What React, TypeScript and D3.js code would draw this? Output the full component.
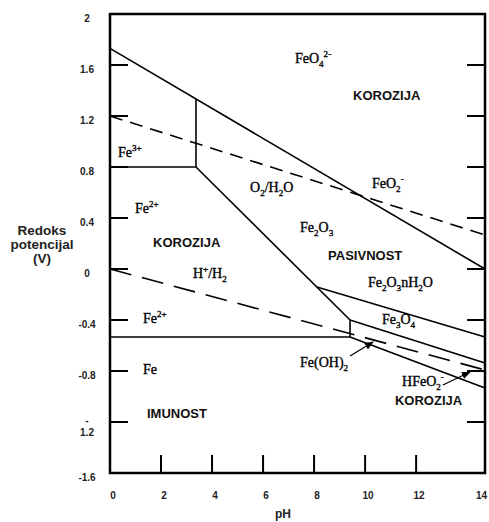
import React from "react";
import * as d3 from "d3";

// ---- data (pH, E in volts) ----
const phMax = 14.7;
const eMin = -1.6;
const eMax = 2;

const yTickValues = [2, 1.6, 1.2, 0.8, 0.4, 0, -0.4, -0.8, -1.2, -1.6];
const yTickLabels = ["2", "1.6", "1.2", "0.8", "0.4", "0", "-0.4", "-0.8", "-\n1.2", "-1.6"];
const yInnerTicks = [1.6, 1.2, 0.8, 0.4, 0, -0.4, -0.8, -1.2];
const xTickValues = [0, 2, 4, 6, 8, 10, 12];
const xTickLabels = ["0", "2", "4", "6", "8", "10", "12"];
const xInnerTicks = [2, 4, 6, 8, 10, 12];
const xEndLabel = "14";

// solid phase boundaries
const feo4Boundary: [number, number][] = [[0, 1.73], [14.7, 0.0]];
const fe3Fe2Boundary: [number, number][] = [[0, 0.8], [3.37, 0.8]];
const fe3Fe2o3Boundary: [number, number][] = [[3.37, 0.8], [3.37, 1.334]];
const fe2Fe2o3Boundary: [number, number][] = [[3.37, 0.8], [9.41, -0.4]];
const fe2Fe3o4Boundary: [number, number][] = [[9.41, -0.4], [9.41, -0.533]];
const fe2FeBoundary: [number, number][] = [[0, -0.533], [9.41, -0.533]];
const hydrateBoundary: [number, number][] = [[8.11, -0.141], [14.7, -0.533]];
const fe3o4LowerBoundary: [number, number][] = [[9.41, -0.4], [14.7, -0.737]];
const feOh2Boundary: [number, number][] = [[9.41, -0.533], [14.7, -0.933]];
// water stability lines
const o2H2oLine: [number, number][] = [[0, 1.2], [14.7, 0.267]];
const hH2Line: [number, number][] = [[0, 0], [14.7, -0.792]];

// arrows
const arrows: [number, number][][] = [
  [[9.41, -0.682], [10.31, -0.573]],
  [[13.05, -0.91], [14.11, -0.808]],
];

// region labels (pH, E, text); _{} = subscript, ^{} = superscript
const serifLabels: [number, number, string][] = [
  [7.25, 1.616, "FeO_{4}^{2-}"],
  [0.31, 0.878, "Fe^{3+}"],
  [10.27, 0.635, "FeO_{2}^{-}"],
  [0.98, 0.439, "Fe^{2+}"],
  [5.49, 0.604, "O_{2}/H_{2}O"],
  [7.45, 0.29, "Fe_{2}O_{3}"],
  [3.25, -0.07, "H^{+}/H_{2}"],
  [10.11, -0.141, "Fe_{2}O_{3}nH_{2}O"],
  [1.29, -0.424, "Fe^{2+}"],
  [10.66, -0.43, "Fe_{3}O_{4}"],
  [1.29, -0.82, "Fe"],
  [7.45, -0.77, "Fe(OH)_{2}"],
  [11.45, -0.918, "HFeO_{2}^{-}"],
];
const boldLabels: [number, number, string][] = [
  [9.53, 1.325, "KOROZIJA"],
  [1.69, 0.173, "KOROZIJA"],
  [8.55, 0.07, "PASIVNOST"],
  [11.17, -1.067, "KOROZIJA"],
  [1.45, -1.17, "IMUNOST"],
];
const yAxisTitle = ["Redoks", "potencijal", "(V)"];
const xAxisTitle = "pH";

// ---- layout ----
const W = 489;
const H = 522;
const left = 110;
const right = 485;
const top = 14;
const bottom = 473;

function rich(text: string) {
  const parts = text.split(/(_\{[^}]*\}|\^\{[^}]*\})/).filter((s) => s.length > 0);
  let shift = 0;
  return parts.map((p, i) => {
    let kind = 0;
    let t = p;
    if (p.startsWith("_{")) { kind = 4; t = p.slice(2, -1); }
    else if (p.startsWith("^{")) { kind = -6; t = p.slice(2, -1); }
    const dy = kind - shift;
    shift = kind;
    return (
      <tspan key={i} dy={dy} fontSize={kind !== 0 ? "0.65em" : undefined}>
        {t}
      </tspan>
    );
  });
}

export default function App() {
  const x = d3.scaleLinear().domain([0, phMax]).range([left, right]);
  const y = d3.scaleLinear().domain([eMin, eMax]).range([bottom, top]);
  const line = d3
    .line<[number, number]>()
    .x((d) => x(d[0]))
    .y((d) => y(d[1]));

  const solid = [
    feo4Boundary,
    fe3Fe2Boundary,
    fe3Fe2o3Boundary,
    fe2Fe2o3Boundary,
    fe2Fe3o4Boundary,
    fe2FeBoundary,
    hydrateBoundary,
    fe3o4LowerBoundary,
    feOh2Boundary,
  ];

  return (
    <svg
      width={W}
      height={H}
      style={{ position: "absolute", left: 0, top: 0, background: "#fff" }}
    >
      <defs>
        <marker id="ah" viewBox="0 0 10 10" refX="9" refY="5" markerWidth="7" markerHeight="7" orient="auto">
          <path d="M0,1 L10,5 L0,9 Z" fill="#000" />
        </marker>
      </defs>
      <rect x={0} y={0} width={W} height={H} fill="#fff" />

      {/* water lines */}
      <path d={line(o2H2oLine) || ""} fill="none" stroke="#000" strokeWidth={1.6} strokeDasharray="13,8" />
      <path d={line(hH2Line) || ""} fill="none" stroke="#000" strokeWidth={1.6} strokeDasharray="22,11" />

      {/* boundaries */}
      {solid.map((s, i) => (
        <path key={i} d={line(s) || ""} fill="none" stroke="#000" strokeWidth={1.6} />
      ))}

      {/* arrows */}
      {arrows.map((a, i) => (
        <path key={i} d={line(a) || ""} fill="none" stroke="#000" strokeWidth={1.3} markerEnd="url(#ah)" />
      ))}

      {/* inner ticks */}
      {yInnerTicks.map((v) => (
        <g key={"yt" + v}>
          <line x1={left} x2={left + 18} y1={y(v)} y2={y(v)} stroke="#000" strokeWidth={2} />
          <line x1={right - 18} x2={right} y1={y(v)} y2={y(v)} stroke="#000" strokeWidth={2} />
        </g>
      ))}
      {xInnerTicks.map((v) => (
        <line key={"xt" + v} x1={x(v)} x2={x(v)} y1={bottom} y2={bottom - 18} stroke="#000" strokeWidth={2} />
      ))}

      {/* frame */}
      <rect x={left} y={top} width={right - left} height={bottom - top} fill="none" stroke="#000" strokeWidth={2.5} />

      {/* y tick labels */}
      <g fontFamily="'Liberation Sans', Arial, sans-serif" fontWeight="bold" fontSize={10} fill="#222" textAnchor="middle">
        {yTickValues.map((v, i) => {
          const lines = yTickLabels[i].split("\n");
          return (
            <text key={"yl" + v} x={87} y={y(v) + 7.5 - (lines.length > 1 ? 6 : 0)}>
              {lines.map((l, j) => (
                <tspan key={j} x={87} dy={j === 0 ? 0 : 12}>{l}</tspan>
              ))}
            </text>
          );
        })}
        {xTickValues.map((v, i) => (
          <text key={"xl" + v} x={x(v) + 3} y={499}>{xTickLabels[i]}</text>
        ))}
        <text x={487} y={499} textAnchor="end">{xEndLabel}</text>
      </g>

      {/* axis titles */}
      <g fontFamily="'Liberation Sans', Arial, sans-serif" fontWeight="bold" fontSize={13.5} fill="#222" textAnchor="middle">
        {yAxisTitle.map((t, i) => (
          <text key={t} x={42} y={235 + i * 14}>{t}</text>
        ))}
        <text x={283} y={518} fontSize={12}>{xAxisTitle}</text>
      </g>

      {/* region labels */}
      <g fontFamily="'Liberation Serif', 'Times New Roman', serif" fontSize={14} fill="#000" stroke="#000" strokeWidth={0.35}>
        {serifLabels.map(([p, e, t], i) => (
          <text key={"s" + i} x={x(p)} y={y(e)}>{rich(t)}</text>
        ))}
      </g>
      <g fontFamily="'Liberation Sans', Arial, sans-serif" fontWeight="bold" fontSize={13} fill="#111">
        {boldLabels.map(([p, e, t], i) => (
          <text key={"b" + i} x={x(p)} y={y(e)}>{t}</text>
        ))}
      </g>
    </svg>
  );
}
